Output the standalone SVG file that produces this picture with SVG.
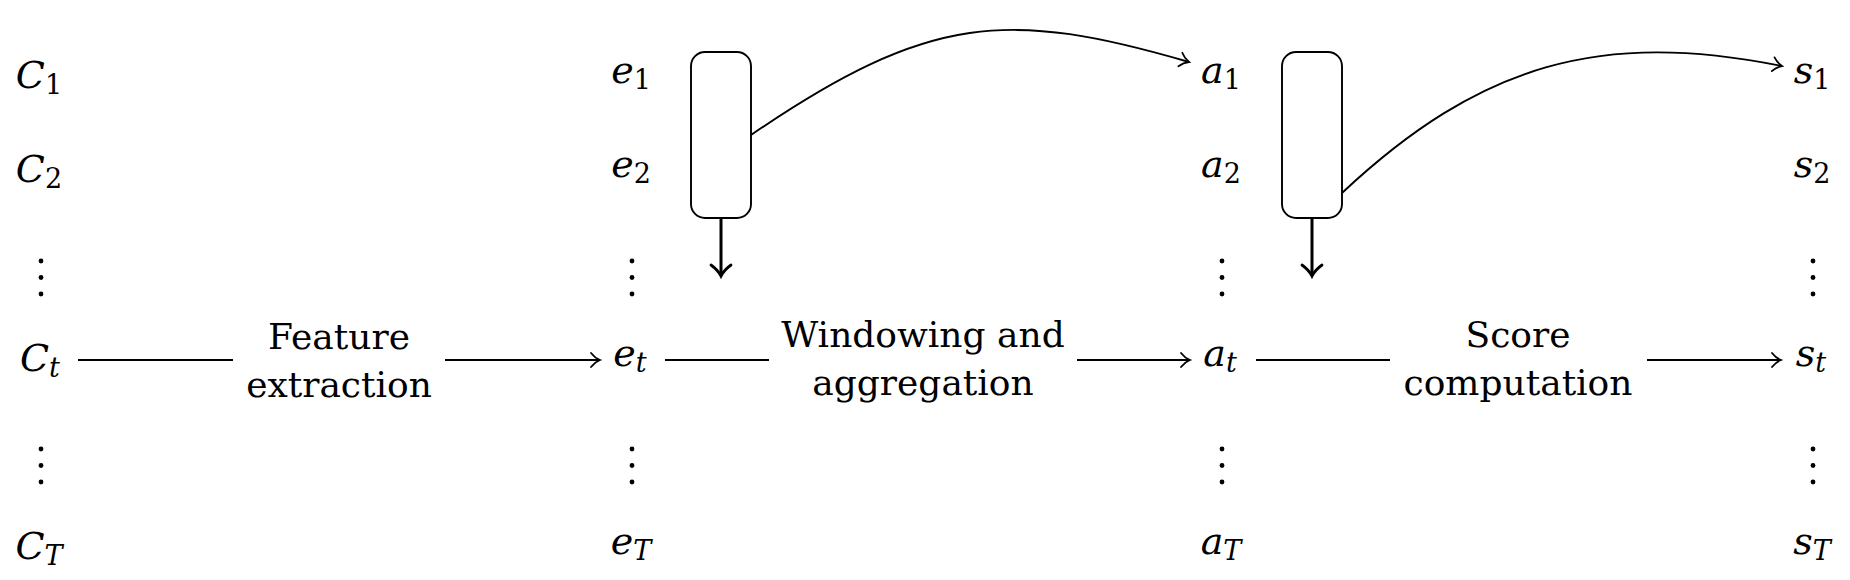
<svg xmlns="http://www.w3.org/2000/svg" width="1850" height="580" viewBox="0 0 1850 580">
<style>
.m{font-family:"DejaVu Serif",serif;font-size:38px;font-style:italic;fill:#000;text-anchor:middle}
.s{font-size:27px}
.n{font-style:normal}
.lbl{font-family:"DejaVu Serif",serif;font-size:36px;fill:#000;text-anchor:middle}
.ln{fill:none;stroke:#000;stroke-width:1.9}
.thk{fill:none;stroke:#000;stroke-width:3}
.box{fill:#fff;stroke:#000;stroke-width:1.9}
.dot{fill:#000}
</style>
<defs>
<marker id="to" markerUnits="userSpaceOnUse" viewBox="-15 -15 30 30" markerWidth="30" markerHeight="30" refX="0" refY="0" orient="auto" overflow="visible">
<path d="M-9,-7 C-6,-3 -2,-0.8 0,0 C-2,0.8 -6,3 -9,7" fill="none" stroke="#000" stroke-width="1.8" stroke-linecap="round"/>
</marker>
<marker id="toT" markerUnits="userSpaceOnUse" viewBox="-15 -15 30 30" markerWidth="30" markerHeight="30" refX="0" refY="0" orient="auto" overflow="visible">
<path d="M-11,-10 C-7,-4.5 -2,-1 0,0 C-2,1 -7,4.5 -11,10" fill="none" stroke="#000" stroke-width="2.8" stroke-linecap="round"/>
</marker>
<g id="vd"><circle class="dot" cx="0" cy="0" r="2.4"/><circle class="dot" cx="0" cy="16.5" r="2.4"/><circle class="dot" cx="0" cy="33" r="2.4"/></g>
</defs>

<g id="C1"><text class="m" x="39" y="88">C<tspan class="s n" dy="6">1</tspan></text></g>
<g id="C2"><text class="m" x="39" y="182">C<tspan class="s n" dy="6">2</tspan></text></g>
<g id="Cdots1"><use href="#vd" x="41" y="261"/></g>
<g id="Ct"><text class="m" x="40" y="371">C<tspan class="s" dy="6">t</tspan></text></g>
<g id="Cdots2"><use href="#vd" x="41" y="449"/></g>
<g id="CT"><text class="m" x="39" y="559">C<tspan class="s" dy="6">T</tspan></text></g>

<g id="e1"><text class="m" x="631" y="83">e<tspan class="s n" dy="6">1</tspan></text></g>
<g id="e2"><text class="m" x="631" y="177">e<tspan class="s n" dy="6">2</tspan></text></g>
<g id="edots1"><use href="#vd" x="632" y="261"/></g>
<g id="et"><text class="m" x="630" y="366">e<tspan class="s" dy="6">t</tspan></text></g>
<g id="edots2"><use href="#vd" x="632" y="449"/></g>
<g id="eT"><text class="m" x="631" y="554">e<tspan class="s" dy="6">T</tspan></text></g>

<g id="a1"><text class="m" x="1221" y="83">a<tspan class="s n" dy="6">1</tspan></text></g>
<g id="a2"><text class="m" x="1221" y="177">a<tspan class="s n" dy="6">2</tspan></text></g>
<g id="adots1"><use href="#vd" x="1222" y="261"/></g>
<g id="at"><text class="m" x="1220" y="366">a<tspan class="s" dy="6">t</tspan></text></g>
<g id="adots2"><use href="#vd" x="1222" y="449"/></g>
<g id="aT"><text class="m" x="1221" y="554">a<tspan class="s" dy="6">T</tspan></text></g>

<g id="s1"><text class="m" x="1812" y="83">s<tspan class="s n" dy="6">1</tspan></text></g>
<g id="s2"><text class="m" x="1812" y="177">s<tspan class="s n" dy="6">2</tspan></text></g>
<g id="sdots1"><use href="#vd" x="1813" y="261"/></g>
<g id="st"><text class="m" x="1811" y="366">s<tspan class="s" dy="6">t</tspan></text></g>
<g id="sdots2"><use href="#vd" x="1813" y="449"/></g>
<g id="sT"><text class="m" x="1812" y="554">s<tspan class="s" dy="6">T</tspan></text></g>

<g id="lbl-feature"><text class="lbl" x="339" y="349">Feature</text><text class="lbl" x="339" y="397">extraction</text></g>
<g id="lbl-window"><text class="lbl" x="923" y="347">Windowing and</text><text class="lbl" x="923" y="395">aggregation</text></g>
<g id="lbl-score"><text class="lbl" x="1518" y="347">Score</text><text class="lbl" x="1518" y="395">computation</text></g>

<g id="win1"><rect class="box" x="691" y="52" width="60" height="166" rx="14"/></g>
<g id="win2"><rect class="box" x="1282" y="52" width="60" height="166" rx="14"/></g>

<g id="connectors">
<path class="ln" d="M78,360 H233"/>
<path class="ln" d="M445,360 H600" marker-end="url(#to)"/>
<path class="ln" d="M665,360 H769"/>
<path class="ln" d="M1077,360 H1190" marker-end="url(#to)"/>
<path class="ln" d="M1256,360 H1390"/>
<path class="ln" d="M1647,360 H1781" marker-end="url(#to)"/>
<path class="thk" d="M721,218 V276" marker-end="url(#toT)"/>
<path class="thk" d="M1312,218 V276" marker-end="url(#toT)"/>
<path class="ln" d="M751,135 C930,12.6 1009,9.8 1189,62" marker-end="url(#to)"/>
<path class="ln" d="M1342,193 C1481,62.8 1602,30 1782,66" marker-end="url(#to)"/>
</g>
</svg>
